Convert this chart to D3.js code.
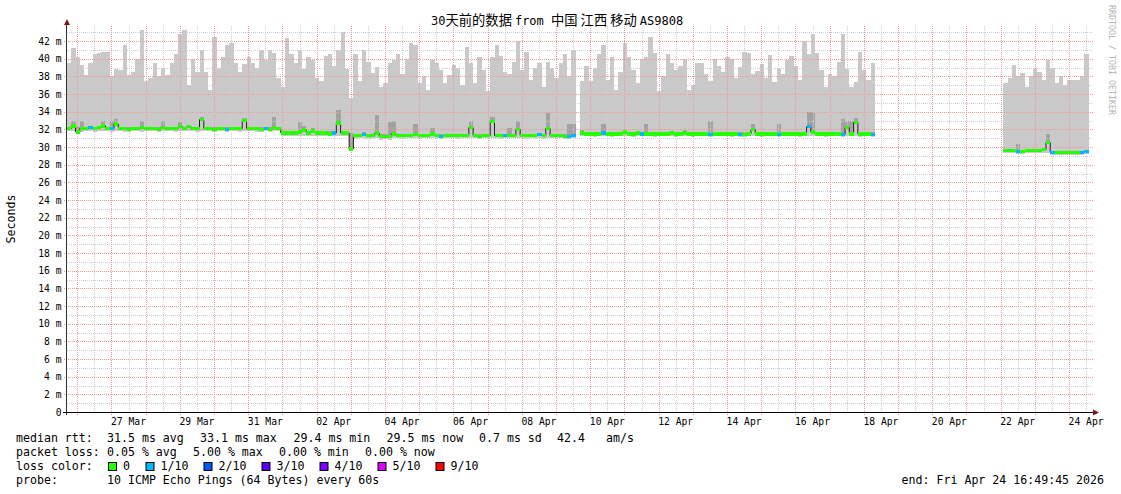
<!DOCTYPE html>
<html><head><meta charset="utf-8">
<script src="https://cdn.jsdelivr.net/npm/d3@7"></script>
<style>
body{margin:0;background:#fff;}
svg text{font-family:"DejaVu Sans Mono","Noto Sans CJK SC",monospace;white-space:pre;}
</style>
</head><body>
<svg id="c" width="1121" height="494"></svg>
<script>
// ---------------- data (3-hour steps, from start time) ----------------
const startTime = "2026-03-25T16:49:45Z";
const endTime   = "2026-04-24T16:49:45Z";
const stepHours = 3;
const N = null;

// top of smoke (largest ping), ms
const rttMax = [
 39.5,41.2,40.2,39.3,38.2,39.5,40.5,40.6,40.8,40.8,
 38.0,38.8,38.7,41.5,38.2,38.5,40.0,43.2,37.5,37.8,
 39.5,38.0,39.0,38.2,39.5,40.5,42.8,43.3,37.0,40.0,
 38.5,41.0,38.5,36.5,42.5,39.0,40.2,41.5,41.8,39.5,
 38.5,39.4,40.2,39.5,38.9,41.0,39.8,41.0,40.6,37.8,
 36.8,42.3,40.5,39.5,41.0,38.8,40.2,39.8,37.8,37.5,
 40.3,40.5,39.2,41.0,43.0,38.8,35.5,40.5,37.5,41.0,
 39.6,38.4,39.1,36.8,37.2,39.5,39.9,40.5,38.3,40.0,
 41.8,41.5,37.3,38.0,36.5,39.8,39.5,38.7,37.2,38.2,
 39.3,39.0,37.0,41.3,39.5,37.3,40.2,38.7,36.3,40.2,
 41.5,40.3,38.5,38.3,39.6,42.0,38.7,40.8,37.6,39.0,
 39.5,36.8,39.6,39.0,37.8,39.5,40.5,38.0,41.0,N,
 37.5,39.2,37.5,39.0,40.5,41.5,37.6,40.2,36.5,38.5,
 41.8,40.2,38.7,37.3,40.0,40.2,42.5,40.6,36.3,38.0,
 40.5,39.5,38.7,39.2,40.0,36.5,37.0,39.5,39.5,38.3,
 37.5,40.0,39.2,38.5,40.2,40.0,37.8,39.1,40.8,40.6,
 38.3,38.6,39.4,37.8,40.4,37.4,38.8,38.3,39.8,40.3,
 39.2,37.6,42.0,40.5,42.8,40.6,38.7,36.8,38.3,38.0,
 39.6,42.8,38.8,36.8,37.4,40.8,38.7,37.6,39.5,
 N,N,N,N,N,N,N,N,N,N, N,N,N,N,N,N,N,N,N,N, N,N,N,N,N,N,N,N,N,N,
 37.2,37.8,39.3,38.0,38.4,36.8,38.0,38.9,38.5,37.6,
 39.8,39.0,37.2,38.0,37.0,37.6,37.6,37.6,38.0,40.5
];

// bottom of smoke (smallest ping), ms
const rttMin = [
 31.8,31.8,31.5,31.7,31.8,31.8,31.7,31.8,31.8,31.8,
 31.7,31.8,31.8,31.7,31.7,31.8,31.8,31.7,31.8,31.8,
 31.8,31.7,31.8,31.8,31.8,31.7,31.8,31.8,31.8,31.8,
 31.7,31.8,31.8,31.8,31.7,31.8,31.8,31.7,31.8,31.8,
 31.7,31.8,31.8,31.8,31.7,31.7,31.8,31.7,31.8,31.8,
 31.3,31.3,31.2,31.3,31.3,31.3,31.2,31.3,31.3,31.3,
 31.2,31.2,31.3,31.3,31.2,31.3,29.7,30.9,31.0,31.0,
 30.9,31.0,31.0,30.8,30.9,30.8,31.0,31.0,30.9,31.0,
 31.0,31.0,30.9,31.0,31.0,31.0,31.0,30.9,31.0,31.0,
 31.0,30.9,31.0,31.0,31.0,31.0,30.9,31.0,31.0,31.0,
 31.0,30.9,31.0,31.0,31.0,31.0,31.0,30.9,31.0,31.0,
 31.0,30.9,31.0,31.0,31.0,31.0,30.9,30.9,31.0,N,
 31.2,31.2,31.2,31.1,31.2,31.2,31.2,31.1,31.2,31.2,
 31.2,31.2,31.1,31.2,31.2,31.2,31.2,31.1,31.2,31.2,
 31.2,31.2,31.1,31.2,31.2,31.2,31.1,31.2,31.2,31.2,
 31.1,31.2,31.2,31.2,31.2,31.1,31.2,31.1,31.1,31.2,
 31.2,31.2,31.1,31.2,31.2,31.2,31.1,31.2,31.2,31.2,
 31.2,31.1,31.2,31.2,31.2,31.2,31.2,31.1,31.2,31.2,
 31.2,31.1,31.2,31.2,31.2,31.1,31.2,31.2,31.1,
 N,N,N,N,N,N,N,N,N,N, N,N,N,N,N,N,N,N,N,N, N,N,N,N,N,N,N,N,N,N,
 29.3,29.3,29.3,29.2,29.2,29.3,29.3,29.3,29.3,29.3,
 29.3,29.1,29.1,29.1,29.1,29.1,29.1,29.1,29.1,29.2
];

// second-largest ping (darker inner smoke top), ms
const rttUpper2 = [
 32.3,32.9,32.3,33.0,32.3,32.3,32.3,32.3,33.0,32.3,
 32.9,33.2,32.3,32.3,32.3,32.3,32.3,33.0,32.3,32.3,
 32.3,32.3,33.0,32.3,32.3,32.3,32.8,32.3,32.5,32.3,
 32.3,33.4,32.3,32.3,32.3,32.3,32.3,32.3,32.3,32.3,
 32.3,33.3,32.3,32.3,32.3,32.3,32.3,32.3,33.4,32.3,
 31.8,31.8,31.8,31.8,32.8,32.4,31.8,32.1,31.8,31.8,
 31.8,31.8,31.8,34.2,31.8,31.8,31.6,31.5,31.5,31.7,
 31.5,31.5,33.6,31.5,31.5,32.8,33.0,31.5,31.5,31.5,
 31.5,32.6,31.5,31.5,31.5,32.2,31.5,31.5,31.5,31.5,
 31.5,31.5,31.5,31.5,33.0,31.5,31.5,31.5,31.5,33.4,
 31.5,31.5,31.5,32.2,31.5,33.0,31.5,31.5,31.5,31.5,
 31.6,31.5,33.8,31.5,31.5,31.5,31.5,32.6,32.6,N,
 31.9,31.7,31.7,31.7,31.7,32.6,31.7,31.7,31.7,31.7,
 31.9,31.7,31.7,31.8,31.7,32.6,31.7,31.7,31.7,31.7,
 31.7,31.8,31.7,31.7,31.9,31.7,31.7,31.7,31.7,31.7,
 33.0,31.7,31.7,31.7,31.7,31.7,31.7,31.7,31.7,31.7,
 32.6,31.7,31.7,31.7,31.7,31.7,32.6,31.7,31.7,31.7,
 31.7,31.7,31.7,34.0,34.0,31.7,31.7,31.7,31.7,31.7,
 31.7,33.2,33.0,33.0,33.3,31.7,31.7,31.7,31.7,
 N,N,N,N,N,N,N,N,N,N, N,N,N,N,N,N,N,N,N,N, N,N,N,N,N,N,N,N,N,N,
 29.8,29.8,29.8,30.3,29.7,29.8,29.8,29.8,29.8,29.9,
 31.5,29.6,29.6,29.6,29.6,29.6,29.6,29.6,29.6,29.7
];

// median rtt, ms
const rttMedian = [
 32.1,32.4,31.7,32.1,32.1,32.2,32.1,32.2,32.4,32.1,
 32.1,32.6,32.1,32.1,32.0,32.1,32.1,32.2,32.1,32.1,
 32.1,32.0,32.2,32.1,32.1,32.1,32.3,32.1,32.3,32.1,
 32.1,33.1,32.1,32.1,32.0,32.1,32.1,32.0,32.1,32.1,
 32.1,33.0,32.1,32.1,32.1,32.0,32.1,32.0,32.2,32.1,
 31.6,31.6,31.6,31.6,31.7,31.9,31.6,31.8,31.6,31.6,
 31.6,31.5,31.6,32.7,31.6,31.6,29.8,31.3,31.3,31.4,
 31.3,31.3,31.6,31.2,31.2,31.2,31.5,31.3,31.3,31.3,
 31.3,31.4,31.3,31.3,31.3,31.5,31.3,31.2,31.3,31.3,
 31.3,31.3,31.3,31.3,32.2,31.3,31.2,31.3,31.3,32.9,
 31.3,31.3,31.3,31.3,31.3,32.0,31.3,31.3,31.3,31.3,
 31.4,31.3,32.1,31.3,31.3,31.3,31.2,31.2,31.3,N,
 31.6,31.5,31.5,31.5,31.5,31.6,31.5,31.5,31.5,31.5,
 31.7,31.5,31.5,31.6,31.5,31.5,31.5,31.5,31.5,31.5,
 31.5,31.6,31.5,31.5,31.6,31.5,31.5,31.5,31.5,31.5,
 31.4,31.5,31.5,31.5,31.5,31.5,31.5,31.4,31.4,31.5,
 32.0,31.5,31.5,31.5,31.5,31.5,31.4,31.5,31.5,31.5,
 31.5,31.5,31.5,32.3,31.7,31.5,31.5,31.5,31.5,31.5,
 31.5,31.4,32.2,31.5,32.8,31.5,31.5,31.5,31.4,
 N,N,N,N,N,N,N,N,N,N, N,N,N,N,N,N,N,N,N,N, N,N,N,N,N,N,N,N,N,N,
 29.6,29.6,29.6,29.5,29.5,29.6,29.6,29.6,29.6,29.7,
 30.5,29.4,29.4,29.4,29.4,29.4,29.4,29.4,29.4,29.5
];

// lost pings out of 10
const lossCount = [
 0,0,0,0,0,1,0,0,0,0, 1,0,0,0,0,0,0,0,0,0, 0,0,0,0,0,0,0,0,0,0,
 0,0,0,0,0,0,0,1,0,0, 0,0,0,0,0,0,1,0,0,0, 0,0,0,0,0,0,0,0,0,0,
 0,0,1,0,0,0,0,0,0,1, 0,0,0,0,0,0,0,0,0,0, 0,0,0,0,0,0,0,1,0,0,
 0,0,0,0,0,0,0,0,0,0, 0,0,1,0,0,0,0,0,0,0, 1,0,0,0,0,0,0,1,1,N,
 0,0,0,0,0,1,0,0,0,0, 0,0,0,0,1,0,0,0,0,0, 0,0,0,0,0,0,0,0,0,0,
 1,0,0,0,0,0,0,1,0,0, 0,0,0,0,0,0,1,0,0,0, 0,0,0,1,0,0,0,0,0,0,
 0,1,0,0,0,0,0,0,1,
 N,N,N,N,N,N,N,N,N,N, N,N,N,N,N,N,N,N,N,N, N,N,N,N,N,N,N,N,N,N,
 0,0,0,1,0,0,0,0,0,0, 0,1,0,0,0,0,0,0,1,1
];

const yTicks = [0,2,4,6,8,10,12,14,16,18,20,22,24,26,28,30,32,34,36,38,40,42];
const yMinorTicks = [1,3,5,7,9,11,13,15,17,19,21,23,25,27,29,31,33,35,37,39,41,43];
const yMax = 43.7;
const xLabelDays = ["2026-03-27","2026-03-29","2026-03-31","2026-04-02","2026-04-04","2026-04-06",
  "2026-04-08","2026-04-10","2026-04-12","2026-04-14","2026-04-16","2026-04-18","2026-04-20",
  "2026-04-22","2026-04-24"];
const lossLabels = ["0","1/10","2/10","3/10","4/10","5/10","9/10"];
const lossColors = ["#26ff00","#00b8ff","#0059ff","#5e00ff","#7e00ff","#dd00ff","#ff0000"];

// title pieces: [text, isCJK]
const titleParts = [["30",false],["天前的数据 ",true],["from ",false],["中国 江西 移动 ",true],["AS9808",false]];
const legendRtt = [["median rtt:",16],["31.5 ms avg",107],["33.1 ms max",200],["29.4 ms min",293.5],["29.5 ms now",386.5],["0.7 ms sd",479],["42.4",557],["am/s",606]];
const legendLoss = [["packet loss:",16],["0.05 % avg",107],["5.00 % max",193],["0.00 % min",279],["0.00 % now",365]];
const legendProbe = [["probe:",16],["10 ICMP Echo Pings (64 Bytes) every 60s",107]];
const endText = "end: Fri Apr 24 16:49:45 2026";

// ---------------- drawing ----------------
const svg = d3.select("#c");
const X0 = 67, X1 = 1093, Y0 = 412, Y1 = 26;
const x = d3.scaleUtc().domain([new Date(startTime), new Date(endTime)]).range([X0, X1]);
const y = d3.scaleLinear().domain([0, yMax]).range([Y0, Y1]);
const t0 = new Date(startTime).getTime();
const timeAt = i => new Date(t0 + i * stepHours * 3600e3);

const rows = rttMax.map((v, i) => ({i, t: timeAt(i), max: v, min: rttMin[i], up: rttUpper2[i], med: rttMedian[i], loss: lossCount[i]}));
const segs = []; let cur = null;
rows.forEach(r => {
  if (r.max == null) { cur = null; return; }
  if (!cur) { cur = []; segs.push(cur); }
  cur.push(r);
});
segs.forEach(s => { const l = s[s.length - 1]; s.push(Object.assign({}, l, {t: timeAt(l.i + 1), end: true})); });

const gSmoke = svg.append("g");
const areaOuter = d3.area().x(d => x(d.t)).y0(d => y(d.min)).y1(d => y(d.max)).curve(d3.curveStepAfter);
const areaInner = d3.area().x(d => x(d.t)).y0(d => y(d.med)).y1(d => y(d.up)).curve(d3.curveStepAfter);
segs.forEach(s => {
  gSmoke.append("path").attr("d", areaOuter(s)).attr("fill", "#c9c9c9").attr("shape-rendering", "crispEdges");
  gSmoke.append("path").attr("d", areaInner(s)).attr("fill", "#a2a2a2").attr("shape-rendering", "crispEdges");
});

// grid
const gGrid = svg.append("g").attr("stroke-width", 1).attr("stroke-dasharray", "1,1").attr("fill", "none");
const px = v => Math.round(v) + 0.5;
const dayLines = d3.utcDay.range(x.domain()[0], x.domain()[1]);
const noonLines = d3.utcHour.every(12).range(x.domain()[0], x.domain()[1]).filter(d => d.getUTCHours() === 12);
yMinorTicks.forEach(v => gGrid.append("line").attr("x1", X0).attr("x2", X1).attr("y1", px(y(v))).attr("y2", px(y(v))).attr("stroke", "#cdcdcd"));
noonLines.forEach(d => gGrid.append("line").attr("x1", px(x(d))).attr("x2", px(x(d))).attr("y1", Y1).attr("y2", Y0).attr("stroke", "#cdcdcd"));
yTicks.filter(v => v > 0).forEach(v => gGrid.append("line").attr("x1", X0 - 3).attr("x2", X1).attr("y1", px(y(v))).attr("y2", px(y(v))).attr("stroke", "#f09a9a"));
dayLines.forEach(d => gGrid.append("line").attr("x1", px(x(d))).attr("x2", px(x(d))).attr("y1", Y1).attr("y2", Y0 + 3).attr("stroke", "#f09a9a"));

// median
const gMed = svg.append("g");
const medLine = d3.line().x(d => x(d.t)).y(d => y(d.med)).curve(d3.curveStepAfter);
segs.forEach(s => {
  gMed.append("path").attr("d", medLine(s)).attr("fill", "none").attr("stroke", "#202020").attr("stroke-width", 1);
});
const bandArea = d3.area().x(d => x(d.t)).y0(d => y(d.med) + 1.75).y1(d => y(d.med) - 1.75).curve(d3.curveStepAfter);
segs.forEach(s => {
  gMed.append("path").attr("d", bandArea(s)).attr("fill", lossColors[0]).attr("shape-rendering", "crispEdges");
});
rows.filter(r => r.loss > 0 && r.med != null).forEach(r => {
  const xa = x(r.t), xb = x(timeAt(r.i + 1));
  gMed.append("rect").attr("x", xa).attr("width", xb - xa).attr("y", y(r.med) - 1.75).attr("height", 3.5)
    .attr("fill", lossColors[r.loss]).attr("shape-rendering", "crispEdges");
});

// axes
const gAx = svg.append("g");
gAx.append("line").attr("x1", 66.5).attr("x2", 66.5).attr("y1", Y0 + 3).attr("y2", 24).attr("stroke", "#303030");
gAx.append("line").attr("x1", 63).attr("x2", X1 + 1).attr("y1", 412.5).attr("y2", 412.5).attr("stroke", "#000");
gAx.append("path").attr("d", "M64,25L70,25L67,19Z").attr("fill", "#7f1818");
gAx.append("path").attr("d", "M1093,409.5L1093,415.5L1099,412.5Z").attr("fill", "#7f1818");

// y labels
const gYL = svg.append("g").attr("font-size", "9.7px").attr("fill", "#000");
yTicks.forEach(v => {
  gYL.append("text").attr("x", 61.5).attr("y", y(v) + 3.6).attr("text-anchor", "end")
    .text(v === 0 ? "0" : v + " m");
});
// x labels
const fmt = d3.utcFormat("%d %b");
const gXL = svg.append("g").attr("font-size", "9.7px").attr("fill", "#000");
xLabelDays.forEach(s => {
  const d = new Date(s + "T12:00:00Z");
  gXL.append("text").attr("x", x(d)).attr("y", 425).attr("text-anchor", "middle").text(fmt(d));
});

// title
const title = svg.append("text").attr("x", 431).attr("y", 25).attr("font-size", "12px");
titleParts.forEach(([t, cjk]) => {
  const ts = title.append("tspan").text(t);
  if (cjk) ts.style("font-family", "'Noto Sans CJK SC'").attr("font-size", "13.3px");
});
// y title
svg.append("text").attr("transform", "translate(15,219) rotate(-90)").attr("text-anchor", "middle")
  .attr("font-size", "11.6px").text("Seconds");
// watermark
svg.append("text").attr("transform", "translate(1108.5,5) rotate(90)").attr("font-size", "8.3px")
  .attr("fill", "#b4b4b4").text("RRDTOOL / TOBI OETIKER");

// legend
const gL = svg.append("g").attr("font-size", "11.6px").attr("fill", "#000");
legendRtt.forEach(([t, xx]) => gL.append("text").attr("x", xx).attr("y", 442).text(t));
legendLoss.forEach(([t, xx]) => gL.append("text").attr("x", xx).attr("y", 456).text(t));
gL.append("text").attr("x", 16).attr("y", 470).text("loss color:");
const boxX = [108, 145.5, 203.5, 261.5, 319.5, 377.5, 435.5];
lossLabels.forEach((lab, i) => {
  gL.append("rect").attr("x", boxX[i] + 0.5).attr("y", 462.5).attr("width", 8).attr("height", 8)
    .attr("fill", lossColors[i]).attr("stroke", "#000").attr("stroke-width", 1);
  gL.append("text").attr("x", boxX[i] + 15).attr("y", 470).text(lab);
});
legendProbe.forEach(([t, xx]) => gL.append("text").attr("x", xx).attr("y", 484).text(t));
gL.append("text").attr("x", 1104).attr("y", 484).attr("text-anchor", "end").text(endText);
</script>
</body></html>
